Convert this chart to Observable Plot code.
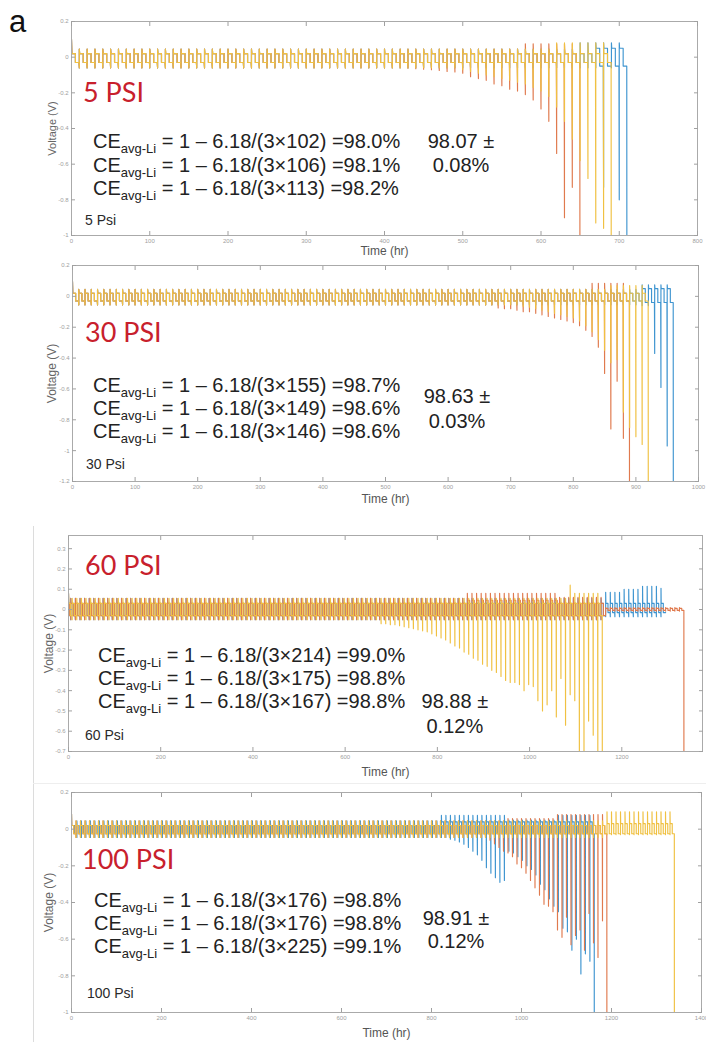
<!DOCTYPE html>
<html><head><meta charset="utf-8">
<script src="https://cdn.jsdelivr.net/npm/d3@7"></script>
<script src="https://cdn.jsdelivr.net/npm/@observablehq/plot@0.6"></script>
<style>
html,body{margin:0;padding:0;background:#fff}
body{width:706px;height:1042px;position:relative;overflow:hidden;font-family:"Liberation Sans",Arial,sans-serif}
.panel{position:absolute;left:0}
.sep{position:absolute;background:#dcdcdc}
</style></head><body>
<div class="sep" style="left:33px;top:526px;width:1px;height:516px"></div>
<div class="sep" style="left:33px;top:783px;width:673px;height:1px;background:#eeeeee"></div>
<script>
// ---------------- DATA ----------------
const cellColors = {blue: "#3f95d0", orange: "#e07a4e", yellow: "#f0c142"};
const cyclePeriod = 10; // hr per plating/stripping cycle

const psiLabels = ["5 PSI", "30 PSI", "60 PSI", "100 PSI"];
const psiSmallLabels = ["5 Psi", "30 Psi", "60 Psi", "100 Psi"];
const ceCycles = [[102, 106, 113], [155, 149, 146], [214, 175, 167], [176, 176, 225]];
const ceResults = [["98.0%", "98.1%", "98.2%"], ["98.7%", "98.6%", "98.6%"], ["99.0%", "98.8%", "98.8%"], ["98.8%", "98.8%", "99.1%"]];
const ceMeans = [["98.07 ±", "0.08%"], ["98.63 ±", "0.03%"], ["98.88 ±", "0.12%"], ["98.91 ±", "0.12%"]];

const xDomains = [[0, 800], [0, 1000], [0, 1375], [0, 1400]];
const yDomains = [[-1, 0.2], [-1.2, 0.2], [-0.7, 0.365], [-1, 0.2]];
const xTickValues = [
  [0, 100, 200, 300, 400, 500, 600, 700, 800],
  [0, 100, 200, 300, 400, 500, 600, 700, 800, 900, 1000],
  [0, 200, 400, 600, 800, 1000, 1200],
  [0, 200, 400, 600, 800, 1000, 1200, 1400]
];
const yTickValues = [
  [0.2, 0, -0.2, -0.4, -0.6, -0.8, -1],
  [0.2, 0, -0.2, -0.4, -0.6, -0.8, -1, -1.2],
  [0.3, 0.2, 0.1, 0, -0.1, -0.2, -0.3, -0.4, -0.5, -0.6, -0.7],
  [0.2, 0, -0.2, -0.4, -0.6, -0.8, -1]
];
const initialSpike = [0.1, 0.097, 0.08, 0.083];

// end of life (hr) for each cell [blue, orange, yellow]
const cellEnds = [[710, 650, 690], [960, 890, 920], [1295, 1335, 1158], [1162, 1190, 1340]];

// ---- 5 PSI ----
const p1BlueDips = [[680, -0.73], [700, -0.80]];
const p1OrangeDips = [[430, -0.062], [440, -0.065], [450, -0.068], [460, -0.07], [470, -0.075], [480, -0.08], [490, -0.083], [500, -0.09], [510, -0.11], [520, -0.12], [530, -0.13], [540, -0.15], [550, -0.16], [560, -0.18], [570, -0.19], [580, -0.21], [590, -0.24], [600, -0.29], [610, -0.36], [620, -0.54], [630, -0.90], [640, -0.73]];
const p1YellowDips = [[500, -0.07], [510, -0.08], [520, -0.09], [530, -0.10], [540, -0.11], [550, -0.12], [560, -0.13], [570, -0.14], [580, -0.15], [590, -0.17], [600, -0.19], [610, -0.22], [620, -0.28], [630, -0.36], [640, -0.46], [650, -0.58], [660, -0.68], [670, -0.93], [680, -0.96]];
const p1BlueHi = [[0, 0.02], [670, 0.05]], p1BlueLo = [[0, -0.03], [670, -0.05]], p1BlueSpike = [[0, 0.045], [650, 0.08]], p1BlueTick = [[0, -0.06]];
const p1OrangeHi = [[0, 0.02]], p1OrangeLo = [[0, -0.03]], p1OrangeSpike = [[0, 0.045], [580, 0.075]], p1OrangeTick = [[0, -0.06]];
const p1YellowHi = [[0, 0.02]], p1YellowLo = [[0, -0.03]], p1YellowSpike = [[0, 0.045], [620, 0.08]], p1YellowTick = [[0, -0.06]];

// ---- 30 PSI ----
const p2BlueDips = [[930, -0.37], [940, -0.59], [950, -0.97]];
const p2OrangeDips = [[680, -0.075], [690, -0.08], [700, -0.08], [710, -0.09], [720, -0.10], [730, -0.10], [740, -0.11], [750, -0.12], [760, -0.13], [770, -0.14], [780, -0.15], [790, -0.16], [800, -0.17], [810, -0.19], [820, -0.22], [830, -0.26], [840, -0.33], [850, -0.50], [860, -0.86], [870, -0.55], [880, -0.92]];
const p2YellowDips = [[720, -0.065], [730, -0.07], [740, -0.08], [750, -0.09], [760, -0.10], [770, -0.11], [780, -0.12], [790, -0.13], [800, -0.14], [810, -0.16], [820, -0.19], [830, -0.23], [840, -0.28], [850, -0.35], [860, -0.43], [870, -0.41], [880, -0.75], [890, -0.85], [900, -0.91], [910, -0.96]];
const p2BlueHi = [[0, 0.02], [910, 0.05]], p2BlueLo = [[0, -0.03], [910, -0.04]], p2BlueSpike = [[0, 0.045], [910, 0.075]], p2BlueTick = [[0, -0.055], [910, -0.06]];
const p2OrangeHi = [[0, 0.02]], p2OrangeLo = [[0, -0.03]], p2OrangeSpike = [[0, 0.045], [830, 0.085]], p2OrangeTick = [[0, -0.055]];
const p2YellowHi = [[0, 0.02]], p2YellowLo = [[0, -0.03]], p2YellowSpike = [[0, 0.045], [860, 0.07]], p2YellowTick = [[0, -0.055]];

// ---- 60 PSI ----
const p3BlueDips = [];
const p3OrangeDips = [];
const p3YellowDips = [[680, -0.07], [690, -0.07], [700, -0.075], [710, -0.075], [720, -0.08], [730, -0.085], [740, -0.09], [750, -0.095], [760, -0.10], [770, -0.105], [780, -0.11], [790, -0.12], [800, -0.13], [810, -0.14], [820, -0.15], [830, -0.165], [840, -0.18], [850, -0.19], [860, -0.21], [870, -0.22], [880, -0.24], [890, -0.25], [900, -0.27], [910, -0.28], [920, -0.30], [930, -0.31], [940, -0.33], [950, -0.35], [960, -0.36], [970, -0.36], [980, -0.37], [990, -0.40], [1000, -0.37], [1010, -0.38], [1020, -0.45], [1030, -0.50], [1040, -0.47], [1050, -0.40], [1060, -0.53], [1070, -0.34], [1080, -0.57], [1090, -0.42], [1100, -0.45], [1110, -0.75], [1120, -0.75], [1130, -0.55], [1140, -0.62], [1150, -0.75]];
const p3YellowPeaks = [[1088, 0.12]];
const p3BlueHi = [[0, 0.03], [1160, 0.03]], p3BlueLo = [[0, -0.03], [1160, -0.015]], p3BlueSpike = [[0, 0.055], [1160, 0.085], [1200, 0.1], [1240, 0.115], [1280, 0.105]], p3BlueTick = [[0, -0.05], [1160, -0.035]];
const p3OrangeHi = [[0, 0.03], [860, 0.045], [1060, 0.03], [1165, 0.006]], p3OrangeLo = [[0, -0.03], [1165, -0.004]], p3OrangeSpike = [[0, 0.055], [860, 0.08], [1060, 0.06], [1165, 0.01]], p3OrangeTick = [[0, -0.05], [1165, -0.008]];
const p3YellowHi = [[0, 0.03]], p3YellowLo = [[0, -0.03]], p3YellowSpike = [[0, 0.055], [1080, 0.08]], p3YellowTick = [[0, -0.05]];

// ---- 100 PSI ----
const p4BlueDips = [[842, -0.055], [852, -0.06], [862, -0.07], [872, -0.082], [882, -0.10], [892, -0.12], [902, -0.14], [912, -0.17], [922, -0.21], [932, -0.24], [942, -0.265], [952, -0.29], [962, -0.28], [972, -0.12], [982, -0.13], [992, -0.15], [1002, -0.17], [1012, -0.20], [1022, -0.22], [1032, -0.25], [1042, -0.30], [1052, -0.33], [1062, -0.38], [1072, -0.42], [1082, -0.45], [1092, -0.54], [1102, -0.56], [1112, -0.66], [1122, -0.60], [1132, -0.79], [1142, -0.68], [1152, -0.72]];
const p4OrangeDips = [[930, -0.06], [940, -0.08], [950, -0.10], [960, -0.12], [970, -0.13], [980, -0.15], [990, -0.19], [1000, -0.21], [1010, -0.24], [1020, -0.28], [1030, -0.32], [1040, -0.36], [1050, -0.41], [1060, -0.42], [1070, -0.45], [1080, -0.55], [1090, -0.59], [1100, -0.48], [1110, -0.63], [1120, -0.58], [1130, -0.55], [1140, -0.66], [1150, -0.46], [1160, -0.62], [1170, -0.70], [1180, -0.50]];
const p4YellowDips = [];
const p4BlueHi = [[0, 0.02], [820, 0.04]], p4BlueLo = [[0, -0.025]], p4BlueSpike = [[0, 0.045], [820, 0.075], [965, 0.05], [1080, 0.075]], p4BlueTick = [[0, -0.045]];
const p4OrangeHi = [[0, 0.02]], p4OrangeLo = [[0, -0.025]], p4OrangeSpike = [[0, 0.045], [965, 0.058], [1080, 0.08]], p4OrangeTick = [[0, -0.045]];
const p4YellowHi = [[0, 0.02], [1185, 0.03]], p4YellowLo = [[0, -0.025]], p4YellowSpike = [[0, 0.045], [1185, 0.095]], p4YellowTick = [[0, -0.045], [1185, -0.03]];

// annotation anchor points in data units [hr, V]
const psiLabelAt = [[15.3, -0.254], [20.8, -0.299], [36.9, 0.168], [24.4, -0.22]];
const smallLabelAt = [[17.9, -0.944], [22.4, -1.122], [36.9, -0.646], [35.6, -0.924]];
const ceTextX = [28.1, 33.5, 65, 51.1];
const ceTextY = [[-0.512, -0.647, -0.776], [-0.623, -0.772, -0.921], [-0.261, -0.375, -0.488], [-0.427, -0.553, -0.678]];
const meanTextX = [498.4, 615, 839, 855.6];
const meanTextY = [[-0.512, -0.647], [-0.694, -0.856], [-0.488, -0.611], [-0.525, -0.651]];

// ---------------- LAYOUT ----------------
const panelBox = [
  {top: 0, height: 260, mt: 21, mb: 25, ml: 71, mr: 9, vFont: 11, vDx: -19, tDy: 16},
  {top: 260, height: 250, mt: 5, mb: 29, ml: 72, mr: 8, vFont: 12, vDx: -20, tDy: 18},
  {top: 510, height: 272, mt: 25, mb: 31, ml: 68, mr: 4, vFont: 12, vDx: -19.5, tDy: 21},
  {top: 782, height: 260, mt: 10, mb: 30, ml: 71, mr: 5, vFont: 12, vDx: -22, tDy: 21}
];

const cellsByPanel = [
  [
    {color: cellColors.blue, end: cellEnds[0][0], drop: true, hi: p1BlueHi, lo: p1BlueLo, spike: p1BlueSpike, tick: p1BlueTick, dips: p1BlueDips},
    {color: cellColors.orange, end: cellEnds[0][1], drop: true, hi: p1OrangeHi, lo: p1OrangeLo, spike: p1OrangeSpike, tick: p1OrangeTick, dips: p1OrangeDips},
    {color: cellColors.yellow, end: cellEnds[0][2], drop: true, hi: p1YellowHi, lo: p1YellowLo, spike: p1YellowSpike, tick: p1YellowTick, dips: p1YellowDips}
  ],
  [
    {color: cellColors.blue, end: cellEnds[1][0], drop: true, hi: p2BlueHi, lo: p2BlueLo, spike: p2BlueSpike, tick: p2BlueTick, dips: p2BlueDips},
    {color: cellColors.orange, end: cellEnds[1][1], drop: true, hi: p2OrangeHi, lo: p2OrangeLo, spike: p2OrangeSpike, tick: p2OrangeTick, dips: p2OrangeDips},
    {color: cellColors.yellow, end: cellEnds[1][2], drop: true, hi: p2YellowHi, lo: p2YellowLo, spike: p2YellowSpike, tick: p2YellowTick, dips: p2YellowDips}
  ],
  [
    {color: cellColors.blue, end: cellEnds[2][0], drop: false, hi: p3BlueHi, lo: p3BlueLo, spike: p3BlueSpike, tick: p3BlueTick, dips: p3BlueDips},
    {color: cellColors.orange, end: cellEnds[2][1], drop: true, hi: p3OrangeHi, lo: p3OrangeLo, spike: p3OrangeSpike, tick: p3OrangeTick, dips: p3OrangeDips},
    {color: cellColors.yellow, end: cellEnds[2][2], drop: true, hi: p3YellowHi, lo: p3YellowLo, spike: p3YellowSpike, tick: p3YellowTick, dips: p3YellowDips, peaks: p3YellowPeaks}
  ],
  [
    {color: cellColors.blue, end: cellEnds[3][0], drop: true, hi: p4BlueHi, lo: p4BlueLo, spike: p4BlueSpike, tick: p4BlueTick, dips: p4BlueDips},
    {color: cellColors.orange, end: cellEnds[3][1], drop: true, hi: p4OrangeHi, lo: p4OrangeLo, spike: p4OrangeSpike, tick: p4OrangeTick, dips: p4OrangeDips},
    {color: cellColors.yellow, end: cellEnds[3][2], drop: true, hi: p4YellowHi, lo: p4YellowLo, spike: p4YellowSpike, tick: p4YellowTick, dips: p4YellowDips}
  ]
];

// ---------------- BUILD ----------------
function stepAt(steps, t) { let v = steps[0][1]; for (const s of steps) if (t >= s[0]) v = s[1]; return v; }

function cellPath(cell, init) {
  const P = cyclePeriod;
  const t0 = ((cell.end % P) + P) % P;
  const K = Math.round((cell.end - t0) / P);
  const dipMap = new Map(cell.dips.map(d => [Math.round((d[0] - t0) / P), d[1]]));
  const peakMap = new Map((cell.peaks || []).map(d => [Math.round((d[0] - t0) / P), d[1]]));
  const pts = [[0, init], [0.5, stepAt(cell.hi, 0)]];
  const lead = t0 > 2;
  if (lead) pts.push([t0 / 2, stepAt(cell.hi, 0)], [t0 / 2, stepAt(cell.lo, 0)], [t0 - 0.4, stepAt(cell.lo, 0)]);
  for (let k = 0; k <= K; k++) {
    const b = t0 + k * P;
    if (k > 0 || lead) {
      if (k === K) { pts.push([b, cell.drop ? -3 : stepAt(cell.lo, b)]); break; }
      pts.push([b, dipMap.has(k) ? dipMap.get(k) : stepAt(cell.tick, b)]);
      pts.push([b, peakMap.has(k) ? peakMap.get(k) : stepAt(cell.spike, b)]);
    }
    if (k === K) break;
    const hi = stepAt(cell.hi, b), lo = stepAt(cell.lo, b);
    pts.push([b + 0.4, hi], [b + P / 2, hi], [b + P / 2, lo], [b + P - 0.4, lo]);
  }
  return pts;
}

const fmt = d => String(d);
const FONT = "Liberation Sans, Arial, sans-serif";

function makePanel(i) {
  const box = panelBox[i];
  const lines = cellsByPanel[i].map(cell =>
    Plot.line(cellPath(cell, initialSpike[i]), {x: d => d[0], y: d => d[1], stroke: cell.color, strokeWidth: 1.15, clip: true})
  );
  const plot = Plot.plot({
    width: 706, height: box.height,
    marginTop: box.mt, marginBottom: box.mb, marginLeft: box.ml, marginRight: box.mr,
    style: {background: "transparent", fontFamily: FONT, overflow: "visible"},
    x: {domain: xDomains[i]},
    y: {domain: yDomains[i]},
    marks: [
      ...lines,
      Plot.frame({stroke: "#aaaaaa", strokeWidth: 1}),
      Plot.axisX(xTickValues[i], {anchor: "bottom", tickSize: -4, tickPadding: 7, fontSize: 6, color: "#a0a0a0", tickFormat: fmt, label: null}),
      Plot.axisX(xTickValues[i], {anchor: "top", tickSize: -4, fill: "none", stroke: "#a0a0a0", label: null}),
      Plot.axisY(yTickValues[i], {anchor: "left", tickSize: -4, tickPadding: 7, fontSize: 6, color: "#a0a0a0", tickFormat: fmt, label: null}),
      Plot.axisY(yTickValues[i], {anchor: "right", tickSize: -4, fill: "none", stroke: "#a0a0a0", label: null}),
      Plot.text(["Voltage (V)"], {frameAnchor: "left", text: d => d, rotate: -90, dx: box.vDx, fontSize: box.vFont, fill: "#666", textAnchor: "middle", lineAnchor: "middle"}),
      Plot.text(["Time (hr)"], {frameAnchor: "bottom", text: d => d, dy: box.tDy, fontSize: 12, fill: "#555", textAnchor: "middle", lineAnchor: "middle"})
    ]
  });
  const sx = plot.scale("x"), sy = plot.scale("y");
  const svg = d3.select(plot);
  const g = svg.append("g").attr("font-family", FONT).attr("text-anchor", "start");
  // red pressure label
  g.append("text").attr("x", sx.apply(psiLabelAt[i][0])).attr("y", sy.apply(psiLabelAt[i][1]))
    .attr("text-anchor", "start")
    .attr("font-family", "Lato, 'Open Sans', sans-serif").attr("font-size", 27).attr("fill", "#c8202c").text(psiLabels[i]);
  // small legend-like label
  g.append("text").attr("x", sx.apply(smallLabelAt[i][0])).attr("y", sy.apply(smallLabelAt[i][1]))
    .attr("text-anchor", "start").attr("font-size", 14).attr("fill", "#2a2a2a").text(psiSmallLabels[i]);
  // CE lines
  ceCycles[i].forEach((n, j) => {
    const t = g.append("text").attr("x", sx.apply(ceTextX[i])).attr("y", sy.apply(ceTextY[i][j]))
      .attr("text-anchor", "start").attr("font-size", 20).attr("fill", "#222");
    t.append("tspan").text("CE");
    t.append("tspan").attr("font-size", 13).attr("dy", 5).text("avg-Li");
    t.append("tspan").attr("dy", -5).text(` = 1 – 6.18/(3×${n}) =${ceResults[i][j]}`);
  });
  // mean ± sd
  ceMeans[i].forEach((s, j) => {
    g.append("text").attr("x", sx.apply(meanTextX[i])).attr("y", sy.apply(meanTextY[i][j]))
      .attr("font-size", 20).attr("fill", "#222").attr("text-anchor", "middle").text(s);
  });
  if (i === 0) {
    svg.append("text").attr("x", 9).attr("y", 32).attr("text-anchor", "start").attr("font-family", FONT)
      .attr("font-size", 31).attr("fill", "#111").text("a");
  }
  const div = document.createElement("div");
  div.className = "panel";
  div.style.top = box.top + "px";
  div.appendChild(plot);
  document.body.appendChild(div);
}

for (let i = 0; i < 4; i++) makePanel(i);
</script>
</body></html>
